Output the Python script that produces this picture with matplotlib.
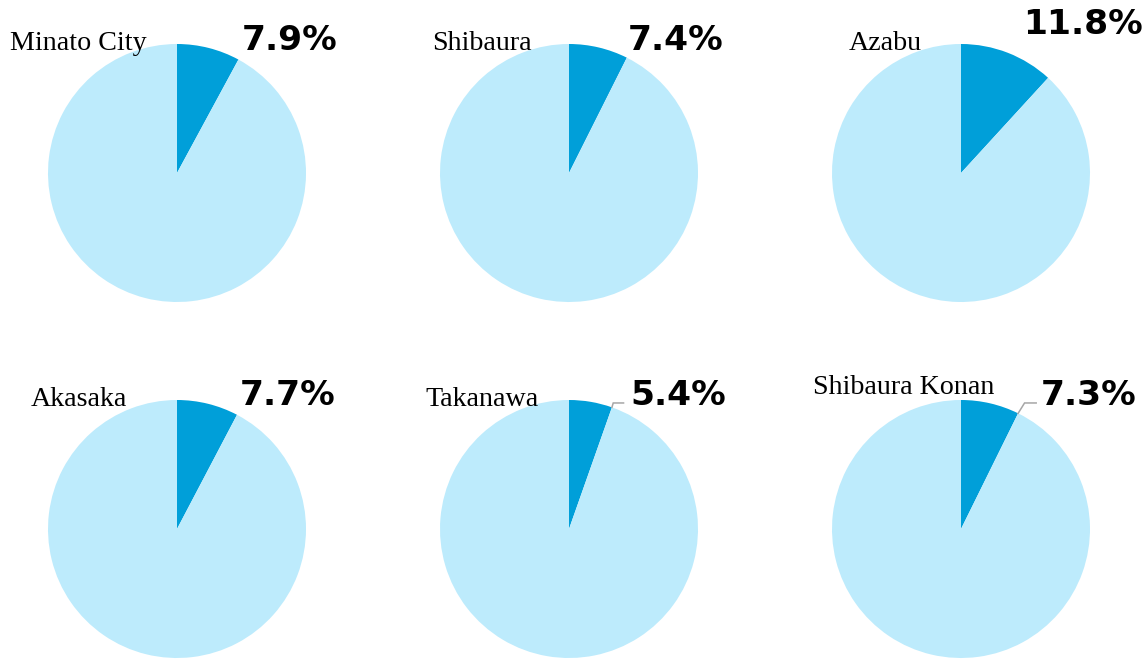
import matplotlib
matplotlib.use("Agg")
import matplotlib.pyplot as plt
import numpy as np

# ---- data ----
areas = ["Minato City", "Shibaura", "Azabu", "Akasaka", "Takanawa", "Shibaura Konan"]
shares = [7.9, 7.4, 11.8, 7.7, 5.4, 7.3]
pct_labels = ["7.9%", "7.4%", "11.8%", "7.7%", "5.4%", "7.3%"]
has_leader = [False, False, False, False, True, True]

# ---- layout (pixels) ----
W, H = 1146, 659
R = 129
centers = [(177, 173), (569, 173), (961, 173), (177, 529), (569, 529), (961, 529)]
title_pos = [(10, 50), (432, 50), (849, 50), (31, 406), (425, 406), (813, 394)]
pct_pos = [(242, 50), (628, 50), (1023, 34), (240, 405), (630, 405), (1041, 405)]
leader_y = 0.977          # in pie radius units
leader_dx = [0, 0, 0, 0, 0.01, 0.05]
leader_len = [0, 0, 0, 0, 0.08, 0.09]

dark = "#009FD9"
light = "#BDEBFC"

fig = plt.figure(figsize=(W / 100, H / 100), dpi=100)

for i in range(6):
    cx, cy = centers[i]
    ax = fig.add_axes([(cx - R) / W, 1 - (cy + R) / H, 2 * R / W, 2 * R / H])
    p = shares[i]
    ax.pie([p, 100 - p], startangle=90, counterclock=False,
           colors=[dark, light], radius=1.0)
    ax.set_xlim(-1, 1)
    ax.set_ylim(-1, 1)
    ax.set_aspect("auto")
    ax.axis("off")
    if has_leader[i]:
        ang = np.deg2rad(90 - 360 * p / 100)
        x0, y0 = np.cos(ang), np.sin(ang)
        x1 = x0 + leader_dx[i]
        ax.plot([x0, x1, x1 + leader_len[i]], [y0, leader_y, leader_y],
                color="#A6A6A6", lw=1.1, clip_on=False, solid_joinstyle="miter")
    tx, ty = title_pos[i]
    fig.text(tx / W, 1 - ty / H, areas[i], family="Liberation Serif",
             fontsize=20.2, ha="left", va="baseline", color="#000000")
    px, py = pct_pos[i]
    fig.text(px / W, 1 - py / H, pct_labels[i], family="DejaVu Sans",
             fontweight="bold", fontsize=24.8, ha="left", va="baseline",
             color="#000000")

fig.savefig("out.png", dpi=100)
